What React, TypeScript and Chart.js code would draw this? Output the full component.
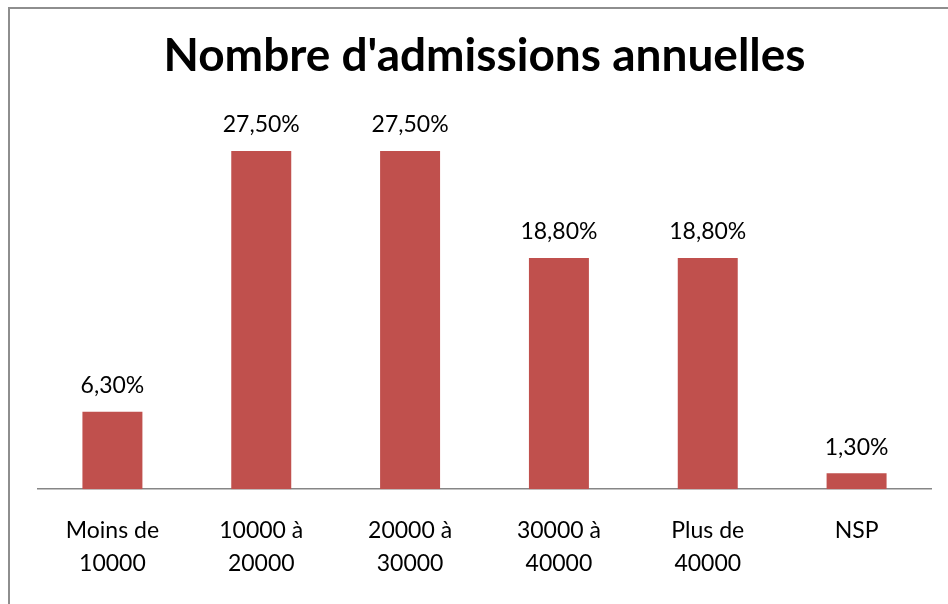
import React, { useEffect, useRef } from "react";
import { Chart, registerables } from "chart.js";

Chart.register(...registerables);

const chartTitle = "Nombre d'admissions annuelles";
const categories: string[][] = [
  ["Moins de", "10000"],
  ["10000 à", "20000"],
  ["20000 à", "30000"],
  ["30000 à", "40000"],
  ["Plus de", "40000"],
  ["NSP"],
];
const values = [6.3, 27.5, 27.5, 18.8, 18.8, 1.3];
const valueLabels = ["6,30%", "27,50%", "27,50%", "18,80%", "18,80%", "1,30%"];

const FONT = "Lato, 'Open Sans', sans-serif";

const dataLabelPlugin = {
  id: "dataLabels",
  afterDatasetsDraw(chart: any) {
    const ctx = chart.ctx;
    const meta = chart.getDatasetMeta(0);
    ctx.save();
    ctx.font = `23px ${FONT}`;
    ctx.fillStyle = "#000000";
    ctx.textAlign = "center";
    ctx.textBaseline = "middle";
    meta.data.forEach((el: any, i: number) => {
      ctx.fillText(valueLabels[i], el.x, el.y - 26);
    });
    ctx.restore();
  },
};

export default function App() {
  const ref = useRef<HTMLCanvasElement | null>(null);
  useEffect(() => {
    if (!ref.current) return;
    const chart = new Chart(ref.current, {
      type: "bar",
      data: {
        labels: categories,
        datasets: [
          {
            data: values,
            backgroundColor: "#C0504D",
            borderWidth: 0,
            barPercentage: 0.403,
            categoryPercentage: 1.0,
          },
        ],
      },
      options: {
        responsive: false,
        animation: false,
        layout: { padding: { left: 38, right: 17, top: 0, bottom: 5 } },
        plugins: {
          legend: { display: false },
          tooltip: { enabled: false },
          title: {
            display: true,
            text: chartTitle,
            color: "#000000",
            font: { family: FONT, size: 46, weight: "bold", lineHeight: 1.2 },
            padding: { top: 29, bottom: 36 },
          },
        },
        scales: {
          x: {
            grid: { display: false, drawTicks: false },
            border: { display: true, color: "#868686", width: 1.5 },
            ticks: {
              color: "#000000",
              font: { family: FONT, size: 23, lineHeight: 1.43 },
              padding: 25,
              maxRotation: 0,
              autoSkip: false,
            },
          },
          y: {
            display: false,
            min: 0,
            max: 30,
          },
        },
      },
      plugins: [dataLabelPlugin],
    });
    return () => chart.destroy();
  }, []);

  return (
    <>
      <canvas
        ref={ref}
        width={948}
        height={610}
        style={{ position: "fixed", left: 0, top: 0, width: 948, height: 610 }}
      />
      <div
        style={{
          position: "fixed",
          left: 8,
          top: 7,
          width: 960,
          height: 620,
          borderTop: "2px solid #8e8e8e",
          borderLeft: "2px solid #8e8e8e",
          pointerEvents: "none",
        }}
      />
    </>
  );
}
